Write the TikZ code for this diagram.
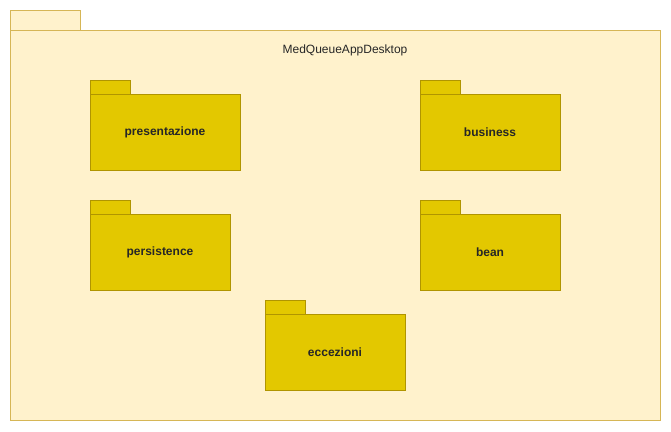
\documentclass[tikz,border=0pt]{standalone}
\usepackage{fontspec}
\setmainfont{Liberation Sans}
\usetikzlibrary{positioning}
\definecolor{outerfill}{HTML}{FFF2CC}
\definecolor{outerdraw}{HTML}{D6B656}
\definecolor{pkgfill}{HTML}{E3C800}
\definecolor{pkgdraw}{HTML}{B09500}
\tikzset{
  outerpkg/.style={draw=outerdraw, fill=outerfill, line width=1pt},
  pkgbody/.style={draw=pkgdraw, fill=pkgfill, line width=1pt, inner sep=0pt, outer sep=0pt,
    font=\fontsize{12}{14}\selectfont\bfseries, text=black!85},
  pkgtab/.style={draw=pkgdraw, fill=pkgfill, line width=1pt}
}
\begin{document}
\begin{tikzpicture}[x=1pt, y=-1pt]
\useasboundingbox (0,0) rectangle (671,431);
\draw[outerpkg] (10,10) rectangle (80,30);
\draw[outerpkg] (10,30) rectangle (660,420);
\node[font=\fontsize{12}{14}\selectfont, text=black!85] (title) at (345,50) {MedQueueAppDesktop};

\node[pkgbody, minimum width=150pt, minimum height=76pt] (presentazione) at (165,132) {presentazione};
\draw[pkgtab] (presentazione.north west) rectangle ++(40,-14);
\node[pkgbody, minimum width=140pt, minimum height=76pt] (business) at (490,132) {business};
\draw[pkgtab] (business.north west) rectangle ++(40,-14);
\node[pkgbody, minimum width=140pt, minimum height=76pt] (persistence) at (160,252) {persistence};
\draw[pkgtab] (persistence.north west) rectangle ++(40,-14);
\node[pkgbody, minimum width=140pt, minimum height=76pt] (bean) at (490,252) {bean};
\draw[pkgtab] (bean.north west) rectangle ++(40,-14);
\node[pkgbody, minimum width=140pt, minimum height=76pt] (eccezioni) at (335,352) {eccezioni};
\draw[pkgtab] (eccezioni.north west) rectangle ++(40,-14);
\end{tikzpicture}
\end{document}
